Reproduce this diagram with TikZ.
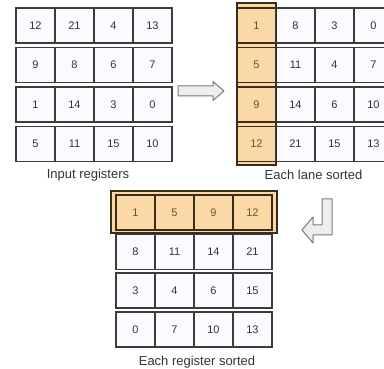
\documentclass[tikz,border=0pt]{standalone}
\usepackage{fontspec}
\setmainfont{Liberation Sans}
\usepackage{tikz}

\definecolor{cellfill}{HTML}{F9FBFE}
\definecolor{cellline}{HTML}{3C3C3C}
\definecolor{lanefill}{HTML}{FAD9A6}
\definecolor{laneline}{HTML}{3A2C18}
\definecolor{lanetext}{HTML}{6E5030}
\definecolor{arrowfill}{HTML}{EEEEEE}
\definecolor{arrowline}{HTML}{7A7A7A}

\begin{document}
\begin{tikzpicture}[x=1pt,y=-1pt,
		cell/.style={rectangle, draw=cellline, fill=cellfill, line width=1.1pt,
			minimum width=39pt, minimum height=35pt, inner sep=0pt,
			text=black!80, font=\fontsize{11}{13}\selectfont},
		lanecell/.style={cell, fill=lanefill, draw=laneline, text=lanetext},
		lanebox/.style={rectangle, draw=laneline, fill=lanefill, line width=1.1pt, inner sep=0pt},
		caption/.style={text=black!80, font=\fontsize{13}{15}\selectfont},
		blockarrow/.style={draw=arrowline, fill=arrowfill, line width=1pt, line join=round}]
		
		\useasboundingbox (0,0) rectangle (384,369);
		\clip (0,0) rectangle (384,369);
		
		% Input registers
		
		\node[cell] (l11) at (35.5,25.5) {12};
		\node[cell] (l12) at (74.5,25.5) {21};
		\node[cell] (l13) at (113.5,25.5) {4};
		\node[cell] (l14) at (152.5,25.5) {13};
		
		\node[cell] (l21) at (35.5,65) {9};
		\node[cell] (l22) at (74.5,65) {8};
		\node[cell] (l23) at (113.5,65) {6};
		\node[cell] (l24) at (152.5,65) {7};
		
		\node[cell] (l31) at (35.5,104.5) {1};
		\node[cell] (l32) at (74.5,104.5) {14};
		\node[cell] (l33) at (113.5,104.5) {3};
		\node[cell] (l34) at (152.5,104.5) {0};
		
		\node[cell] (l41) at (35.5,144) {5};
		\node[cell] (l42) at (74.5,144) {11};
		\node[cell] (l43) at (113.5,144) {15};
		\node[cell] (l44) at (152.5,144) {10};
		
		\node[caption] (inputLabel) at (88,175) {Input registers};
		
		% Each lane sorted
		
		\node[lanebox, minimum width=39pt, minimum height=162pt] (lane) at (256.5,84) {};
		
		\node[lanecell] (r11) at (256.5,25.5) {1};
		\node[cell] (r12) at (295.5,25.5) {8};
		\node[cell] (r13) at (334.5,25.5) {3};
		\node[cell] (r14) at (373.5,25.5) {0};
		
		\node[lanecell] (r21) at (256.5,65) {5};
		\node[cell] (r22) at (295.5,65) {11};
		\node[cell] (r23) at (334.5,65) {4};
		\node[cell] (r24) at (373.5,65) {7};
		
		\node[lanecell] (r31) at (256.5,104.5) {9};
		\node[cell] (r32) at (295.5,104.5) {14};
		\node[cell] (r33) at (334.5,104.5) {6};
		\node[cell] (r34) at (373.5,104.5) {10};
		
		\node[lanecell] (r41) at (256.5,144) {12};
		\node[cell] (r42) at (295.5,144) {21};
		\node[cell] (r43) at (334.5,144) {15};
		\node[cell] (r44) at (373.5,144) {13};
		
		\draw[draw=laneline, line width=1.1pt] (lane.north west) rectangle (lane.south east);
		
		\node[caption] (laneLabel) at (313.5,175) {Each lane sorted};
		
		% Each register sorted
		
		\node[lanebox, minimum width=166pt, minimum height=42pt] (reg) at (194,212) {};
		
		\node[lanecell] (b11) at (135.5,212.5) {1};
		\node[lanecell] (b12) at (174.5,212.5) {5};
		\node[lanecell] (b13) at (213.5,212.5) {9};
		\node[lanecell] (b14) at (252.5,212.5) {12};
		
		\node[cell] (b21) at (135.5,252) {8};
		\node[cell] (b22) at (174.5,252) {11};
		\node[cell] (b23) at (213.5,252) {14};
		\node[cell] (b24) at (252.5,252) {21};
		
		\node[cell] (b31) at (135.5,290.5) {3};
		\node[cell] (b32) at (174.5,290.5) {4};
		\node[cell] (b33) at (213.5,290.5) {6};
		\node[cell] (b34) at (252.5,290.5) {15};
		
		\node[cell] (b41) at (135.5,329.5) {0};
		\node[cell] (b42) at (174.5,329.5) {7};
		\node[cell] (b43) at (213.5,329.5) {10};
		\node[cell] (b44) at (252.5,329.5) {13};
		
		\node[caption] (regLabel) at (197,362) {Each register sorted};
		
		% Arrows
		
		\draw[blockarrow] (178,86) -- (213,86) -- (213,81.5) -- (224,91)
			-- (213,100.5) -- (213,96) -- (178,96) -- cycle;
		
		\draw[blockarrow] (322,199) -- (332,199) -- (332,235) -- (313,235)
			-- (313,243) -- (302,230) -- (313,217) -- (313,225) -- (322,225) -- cycle;
		
	\end{tikzpicture}
\end{document}
